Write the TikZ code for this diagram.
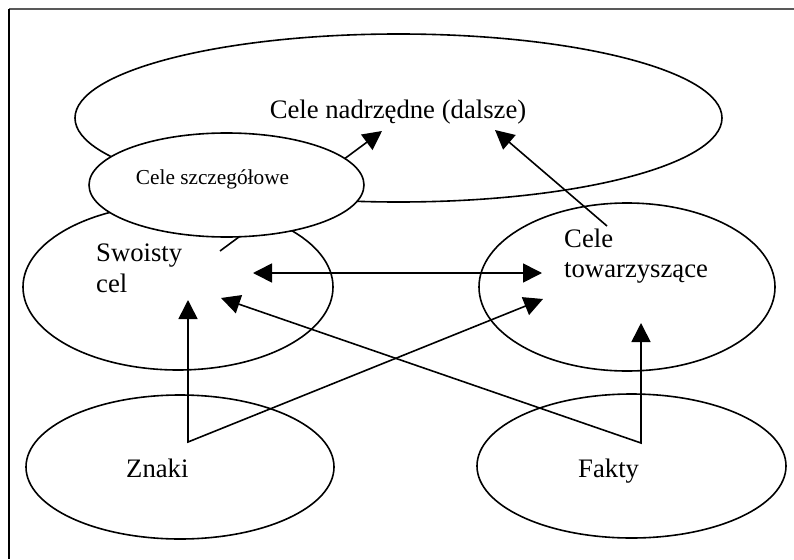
\documentclass[tikz,border=0pt]{standalone}
\usepackage{fontspec}
\setmainfont{Liberation Serif}
\usetikzlibrary{shapes.geometric,arrows.meta}
\begin{document}
\begin{tikzpicture}[x=1pt,y=-1pt,
  elli/.style={ellipse,draw=black,line width=1.6pt,inner sep=0pt},
  lbl/.style={inner sep=0pt,font=\fontsize{26.7}{31}\selectfont},
  lblsmall/.style={inner sep=0pt,font=\fontsize{21.3}{25}\selectfont},
  conn/.style={line width=1.6pt,miter limit=10,-{Triangle[length=19pt,width=19pt]}},
  conn2/.style={line width=1.6pt,miter limit=10,{Triangle[length=19pt,width=19pt]}-{Triangle[length=19pt,width=19pt]}}
]
\useasboundingbox (0,0) rectangle (794,559);
% frame
\coordinate (ftl) at (9,9.5);
\coordinate (ftr) at (794,9.5);
\coordinate (fbl) at (9,559);
\draw[line width=2pt,black!65] (ftl) -- (ftr);
\draw[line width=1.4pt,black] (ftl) -- (fbl);

% ellipses
\node[elli,minimum width=647pt,minimum height=168pt] (nadrz) at (398.5,118) {};
\node[elli,minimum width=310pt,minimum height=166pt] (swo) at (178,287) {};
\node[elli,minimum width=296pt,minimum height=168pt] (tow) at (627,287) {};
\node[elli,minimum width=308pt,minimum height=144pt] (zn) at (180,467) {};
\node[elli,minimum width=309pt,minimum height=144pt] (fk) at (631.5,466) {};

% texts
\node[lbl,anchor=base] (tnadrz) at (398,118) {Cele nadrzędne (dalsze)};
\node[lbl,anchor=base west] (tswo1) at (96,261) {Swoisty};
\node[lbl,anchor=base west] (tswo2) at (96,292) {cel};
\node[lbl,anchor=base west] (ttow1) at (564,247) {Cele};
\node[lbl,anchor=base west] (ttow2) at (564,277) {towarzyszące};
\node[lbl,anchor=base west] (tzn) at (126,477) {Znaki};
\node[lbl,anchor=base west] (tfk) at (578,477) {Fakty};

% connector end points
\coordinate (a1s) at (220,251);
\coordinate (a1e) at (382,131);
\coordinate (a2s) at (607,226);
\coordinate (a2e) at (495,130);
\coordinate (a3s) at (253,273);
\coordinate (a3e) at (542,273);
\coordinate (zv) at (188,442);
\coordinate (zup) at (188,300);
\coordinate (zdg) at (543,299);
\coordinate (fv) at (641,443);
\coordinate (fup) at (641,323);
\coordinate (fdg) at (221,298);

\draw[conn] (a1s) -- (a1e);
\draw[conn] (a2s) -- (a2e);
\draw[conn2] (a3s) -- (a3e);
\draw[conn2] (zup) -- (zv) -- (zdg);
\draw[conn2] (fdg) -- (fv) -- (fup);

% small ellipse on top
\node[elli,fill=white,minimum width=275pt,minimum height=104pt] (szcz) at (226.5,185) {};
\node[lblsmall,anchor=base] (tszcz) at (212.5,184) {Cele szczegółowe};
\end{tikzpicture}
\end{document}
